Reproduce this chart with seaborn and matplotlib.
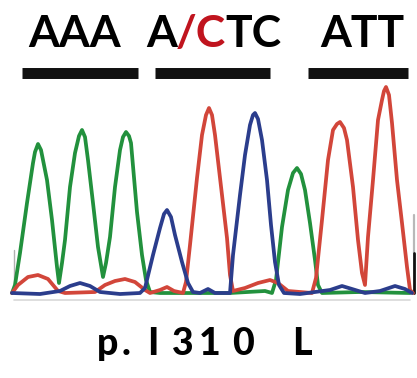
import matplotlib
matplotlib.use("Agg")
import matplotlib.pyplot as plt
import seaborn as sns

# trace values: x position, signal height above baseline
green_x = [12, 15, 20, 27, 33, 35, 38, 41, 43, 47, 52, 57, 59, 62, 65, 70, 75, 79, 82, 85, 88,
           93, 98, 103, 106, 110, 115, 120, 123, 126, 129, 131, 137, 142, 146, 150, 160, 200,
           230, 265, 272, 276, 282, 288, 293, 297, 301, 305, 310, 315, 318, 322, 360, 410]
green_y = [0, 8, 40, 90, 130, 141, 149, 143, 133, 113, 73, 26, 10, 30, 53, 106, 140, 157, 163, 156, 133,
           90, 46, 16, 30, 56, 106, 143, 156, 161, 157, 150, 81, 38, 13, 1, 0, 0,
           0, 2, 0, 13, 66, 103, 120, 125, 119, 103, 70, 33, 8, 0, 1, 0]

red_x = [12, 18, 28, 38, 48, 58, 65, 95, 105, 115, 125, 135, 145, 150, 160, 167, 174, 183,
         186, 190, 197, 202, 206, 209, 212, 215, 222, 227, 230, 233, 245, 258, 270, 278, 288, 312,
         316, 322, 328, 333, 337, 340, 344, 347, 353, 358, 362, 365, 368, 373, 378, 382, 384, 386,
         389, 392, 397, 402, 407, 410, 413]
red_y = [0, 8, 16, 18, 14, 2, 0, 1, 8, 12, 14, 11, 3, 0, 3, 6, 2, 0,
         11, 48, 115, 158, 178, 185, 178, 158, 98, 55, 18, 2, 5, 10, 13, 10, 2, 0,
         15, 73, 133, 163, 169, 171, 165, 153, 106, 53, 20, 8, 56, 113, 173, 193, 202, 206,
         198, 170, 113, 70, 26, 3, 0]

blue_x = [12, 40, 60, 70, 80, 90, 100, 120, 140, 145, 153, 160, 164, 167, 171, 175, 182, 188, 193,
          200, 208, 215, 230, 233, 240, 245, 250, 253, 255, 258, 262, 267, 271, 275, 279, 284, 300,
          330, 342, 352, 365, 380, 395, 405, 412]
blue_y = [0, -1, 2, 7, 10, 7, 1, -1, 0, 5, 38, 65, 79, 83, 76, 58, 31, 10, 1,
          0, 4, 0, 0, 38, 98, 138, 168, 178, 180, 174, 153, 113, 68, 31, 8, 0, -1,
          3, 7, 4, 0, 2, 7, 4, 0]

codons = ["AAA", "A/CTC", "ATT"]
mutation_label = "p. I 310 L"

GREEN = "#22913d"
RED = "#d2463a"
BLUE = "#2b3d8c"
DARK_RED = "#c0141e"

sns.set_style("white")
plt.rcParams["font.family"] = ["Lato", "DejaVu Sans"]

fig = plt.figure(figsize=(4.17, 3.78), dpi=100)
ax = fig.add_axes([0, 0, 1, 1])

sns.lineplot(x=green_x, y=green_y, sort=False, estimator=None, color=GREEN, lw=2.7, ax=ax, zorder=2)
sns.lineplot(x=red_x, y=red_y, sort=False, estimator=None, color=RED, lw=2.7, ax=ax, zorder=3)
sns.lineplot(x=blue_x, y=blue_y, sort=False, estimator=None, color=BLUE, lw=2.7, ax=ax, zorder=4)

# frame bits around the trace
ax.plot([14, 410], [-7, -7], color="#d8d8d8", lw=1.2, zorder=1)
ax.plot([14, 14], [0, 43], color="#b0b0b0", lw=1.0, zorder=1)
ax.plot([414, 414], [40, 78], color="#b8b8b8", lw=1.6, zorder=1)
ax.plot([414, 414], [0, 40], color="#111111", lw=2.0, zorder=1)

# codon bars
for x0, x1 in [(22, 138), (155, 270), (308, 408)]:
    ax.plot([x0, x1], [220.5, 220.5], color="#111111", lw=7.9, solid_capstyle="butt")

fs = 32
ax.set_xlim(0, 417)
ax.set_ylim(-85, 293)
ax.axis("off")

ax.text(75, 246, codons[0], ha="center", va="baseline", fontsize=fs, fontweight="bold", color="black")
ax.text(362, 246, codons[2], ha="center", va="baseline", fontsize=fs, fontweight="bold", color="black")

# middle codon in pieces so the mutated base can be red, laid end to end
fig.canvas.draw()
renderer = fig.canvas.get_renderer()
x = 146
for piece, col in [(codons[1][0], "black"), (codons[1][1:3], DARK_RED), (codons[1][3:], "black")]:
    t = ax.text(x, 246, piece, ha="left", va="baseline", fontsize=fs, fontweight="bold", color=col)
    bb = t.get_window_extent(renderer)
    x = ax.transData.inverted().transform((bb.x1 - 1, bb.y0))[0]

# the bottom label is set very wide in the original, so place its glyphs one by one
glyphs = [c for c in mutation_label if c != " "]
centers = [107.5, 126, 152.5, 182.5, 210, 243, 301.5]
for c, cx in zip(glyphs, centers):
    ax.text(cx, -62, c, ha="center", va="baseline", fontsize=27, fontweight="black", color="black")

fig.savefig("out.png", dpi=100, facecolor="white")
